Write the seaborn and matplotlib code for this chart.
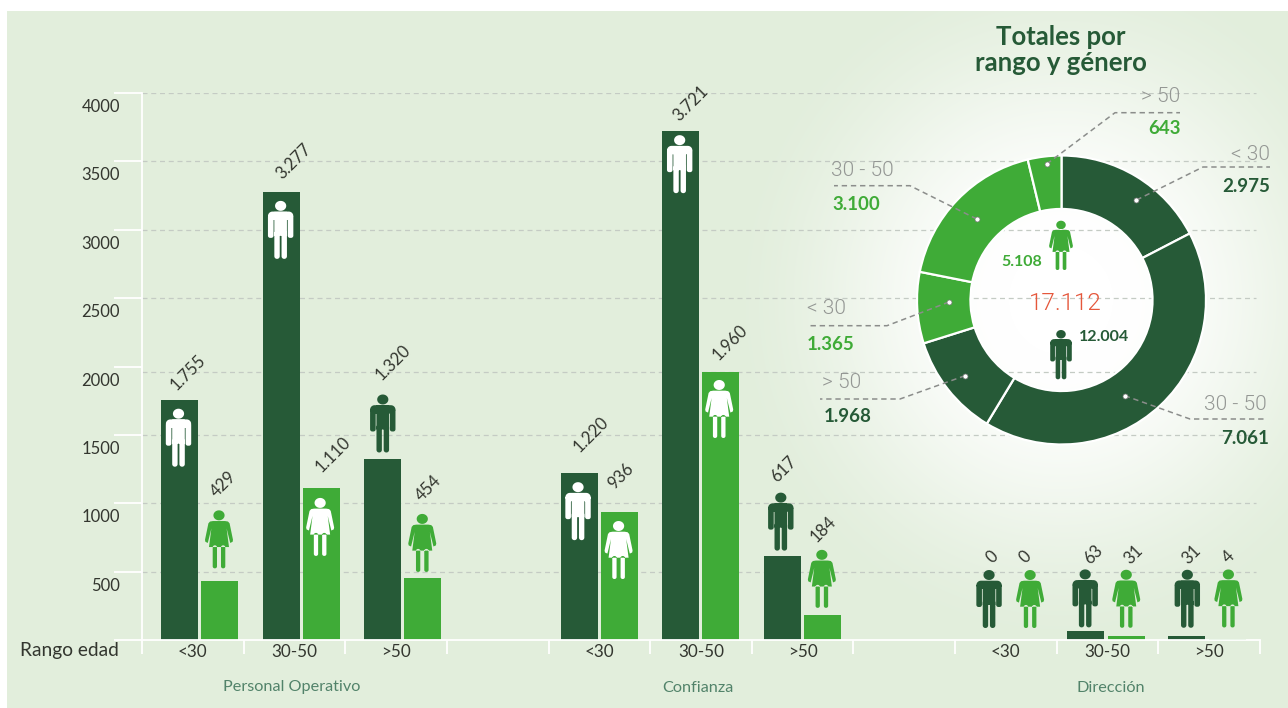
import numpy as np
import pandas as pd
import matplotlib
matplotlib.use("Agg")
import matplotlib.pyplot as plt
import seaborn as sns
from matplotlib.path import Path
from matplotlib.patches import PathPatch
from matplotlib.transforms import Affine2D, ScaledTranslation

# ---------- data ----------
groups = ["Personal Operativo", "Confianza", "Dirección"]
age_bands = ["<30", "30-50", ">50"]
men_values = [1755, 3277, 1320, 1220, 3721, 617, 0, 63, 31]
women_values = [429, 1110, 454, 936, 1960, 184, 0, 31, 4]
y_ticks = [0, 500, 1000, 1500, 2000, 2500, 3000, 3500, 4000]
grid_levels = [500, 1000, 1500, 1960, 2500, 3000, 3500, 4000]
donut_values = [2975, 7061, 1968, 1365, 3100, 643]
donut_bands = ["< 30", "30 - 50", "> 50", "< 30", "30 - 50", "> 50"]
total_men = 12004
total_women = 5108
total_all = 17112

# ---------- style / layout ----------
W, H, DPI = 1288, 708, 100
DARK, GREEN = "#265A37", "#3FAB37"
BASE = np.array([226, 238, 220]) / 255
INK, GREY, ORANGE, SUB = "#33362f", "#949794", "#E5573B", "#52836A"
pt = 72 / DPI

men_off = [.369, .30, .28]
women_off = [.7625, .694, .684]
bands_idx = [0, 1, 2, 4, 5, 6, 8, 9, 10]
men_pos = [b + men_off[i // 3] for i, b in enumerate(bands_idx)]
women_pos = [b + women_off[i // 3] for i, b in enumerate(bands_idx)]

# label offset from bar top (px), icon head-top offset from bar top (px), icon colour
men_label_off = [(8.5, 28), (12.5, 30), (10.5, 97), (12.5, 39), (10.5, 28), (1.5, 86), (8.5, 83), (8.5, 77), (4.5, 81)]
women_label_off = [(3.5, 97), (11.5, 34), (5.5, 90), (1.5, 36), (9.5, 29), (.5, 86), (.5, 83), (7.5, 81), (.5, 82)]
men_icon_off = [(-1, -8.7), (-.5, -9), (0, 65), (-1, -9), (-1, -4), (-1.5, 63), (5.5, 70), (0, 62), (.5, 66)]
women_icon_off = [(-.5, 71), (-1, -9.7), (-.5, 64), (-.5, -9), (-1.5, -8), (-.5, 65), (5.5, 70), (0, 66), (.5, 70)]
men_icon_col = ["white", "white", DARK, "white", "white", DARK, DARK, DARK, DARK]
women_icon_col = [GREEN, "white", GREEN, "white", "white", GREEN, GREEN, GREEN, GREEN]

sns.set_theme(style="white")
plt.rcParams["font.family"] = ["Lato", "DejaVu Sans"]
plt.rcParams["axes.unicode_minus"] = False
LIGHT = ["Roboto", "DejaVu Sans"]


def fmt(v):
    return f"{v:,}".replace(",", ".")


def rrect(x0, y0, x1, y1, r):
    pts = []
    for cx, cy, a0 in [(x0 + r, y0 + r, 180), (x1 - r, y0 + r, 270), (x1 - r, y1 - r, 0), (x0 + r, y1 - r, 90)]:
        for a in np.radians(np.linspace(a0, a0 + 90, 7)):
            pts.append((cx + r * np.cos(a), cy + r * np.sin(a)))
    return Path(pts + [pts[0]], closed=True)


def poly(pts):
    return Path(list(pts) + [pts[0]], closed=True)


def head():
    t = np.radians(np.linspace(0, 360, 33))
    return Path(np.c_[5.6 * np.cos(t), 5 + 5 * np.sin(t)], closed=True)


MAN = Path.make_compound_path(
    head(),
    rrect(-12.7, 10.7, 12.7, 19, 4.5),
    rrect(-12.7, 14, -7.1, 37, 2.2),
    rrect(7.1, 14, 12.7, 37, 2.2),
    rrect(-6.3, 11, 6.3, 35, .1),
    rrect(-6.3, 30, -.9, 58, 2.6),
    rrect(.9, 30, 6.3, 58, 2.6),
)
WOMAN = Path.make_compound_path(
    head(),
    poly([(-6, 10.7), (-9, 11.2), (-10.6, 13), (-14, 29.5), (-13.6, 31.5), (-11.2, 32.6), (-7.6, 18),
          (-10, 36.7), (10, 36.7), (7.6, 18), (11.2, 32.6), (13.6, 31.5), (14, 29.5), (10.6, 13), (9, 11.2), (6, 10.7)]),
    rrect(-6.3, 35, -2, 58, 2),
    rrect(2, 35, 6.3, 58, 2),
)


def icon(ax, shape, x, y, dx, dy, color, scale=1.0):
    """Icon with its head top dy px above (x, y) in ax data coordinates."""
    tr = Affine2D().scale(scale, -scale).translate(dx, dy) + ScaledTranslation(x, y, ax.transData)
    p = PathPatch(shape, facecolor=color, edgecolor="none", transform=tr, clip_on=False, zorder=6)
    ax.add_artist(p)
    p.set_clip_on(False)


fig = plt.figure(figsize=(W / DPI, H / DPI), dpi=DPI, facecolor="white")


def rect(x0, ytop, x1, ybot):
    return [x0 / W, 1 - ybot / H, (x1 - x0) / W, (ybot - ytop) / H]


# ---------- background ----------
bg = fig.add_axes([0, 0, 1, 1], zorder=0)
bg.axis("off")
xx, yy = np.meshgrid(np.arange(7, W) + .5, np.arange(11, H) + .5)
d = np.sqrt(((xx - 1061) / 345) ** 2 + ((yy - 300) / 360) ** 2)
t = np.clip((1 - d) / .85, 0, 1)
t = t * t * (3 - 2 * t)
img = BASE[None, None, :] * (1 - t[..., None]) + t[..., None]
bg.imshow(img, extent=(7, W, H, 11), aspect="auto", interpolation="bilinear", zorder=0)
bg.set_xlim(0, W)
bg.set_ylim(H, 0)

# ---------- bars ----------
ax = fig.add_axes(rect(142, 93, 1260, 640), zorder=1)
ax.patch.set_alpha(0)
men_df = pd.DataFrame({"pos": men_pos, "value": men_values})
women_df = pd.DataFrame({"pos": women_pos, "value": women_values})
for level in grid_levels:
    ax.plot([0, 10.96], [level, level], color="#c4cbc4", lw=.9, dashes=(4, 3), zorder=0.5)
bar_w = 37 / 101.64
sns.barplot(data=men_df, x="pos", y="value", native_scale=True, width=bar_w, color=DARK, saturation=1,
            errorbar=None, ax=ax, zorder=2, linewidth=0, edgecolor="none")
sns.barplot(data=women_df, x="pos", y="value", native_scale=True, width=bar_w, color=GREEN, saturation=1,
            errorbar=None, ax=ax, zorder=2, linewidth=0, edgecolor="none")
ax.set_xlim(0, 11)
ax.set_ylim(0, 4000)
ax.set_xlabel("")
ax.set_ylabel("")
for s in ["top", "right"]:
    ax.spines[s].set_visible(False)
for s in ["left", "bottom"]:
    ax.spines[s].set_color("white")
    ax.spines[s].set_linewidth(1.3)
ax.grid(False)

ax.set_yticks(y_ticks, [str(v) if v else "" for v in y_ticks])
ax.tick_params(axis="y", direction="out", length=28 * pt, width=1.3, color="white", pad=-6 * pt,
               labelsize=12, labelcolor=INK, left=True)
shift = ScaledTranslation(0, -6 / DPI, fig.dpi_scale_trans)
for lab in ax.get_yticklabels():
    lab.set_va("top")
    lab.set_transform(lab.get_transform() + shift)

ax.set_xticks(list(range(12)), [""] * 12)
ax.tick_params(axis="x", which="major", direction="out", length=14 * pt, width=1.3, color="white", bottom=True)
ax.set_xticks([b + .5 for b in bands_idx], age_bands * 3, minor=True)
ax.tick_params(axis="x", which="minor", length=0, pad=4.2 * pt, labelsize=12.3, labelcolor=INK, bottom=True)

for pos, vals, lab_off, ic_off, ic_col, shape in [
    (men_pos, men_values, men_label_off, men_icon_off, men_icon_col, MAN),
    (women_pos, women_values, women_label_off, women_icon_off, women_icon_col, WOMAN),
]:
    for x, v, lo, io, c in zip(pos, vals, lab_off, ic_off, ic_col):
        ax.annotate(fmt(v), xy=(x, v), xytext=(lo[0] * pt, lo[1] * pt), textcoords="offset points",
                    ha="center", va="center", rotation=45, rotation_mode="anchor", fontsize=12,
                    color=INK, annotation_clip=False, zorder=7)
        icon(ax, shape, x, v, io[0], io[1], c)

# ---------- donut ----------
cx, cy, R = 1061.5, 300, 144.5
pa = fig.add_axes(rect(cx - R, cy - R, cx + R, cy + R), zorder=2)
pa.patch.set_alpha(0)
pa.pie(donut_values, colors=[DARK, DARK, DARK, GREEN, GREEN, GREEN], startangle=90, counterclock=False, radius=1,
       wedgeprops=dict(width=.37, edgecolor="white", linewidth=1.6, clip_on=False))
pa.set_xlim(-1, 1)
pa.set_ylim(-1, 1)
pa.axis("off")

# ---------- overlay (pixel coordinates) ----------
ov = fig.add_axes([0, 0, 1, 1], zorder=3)
ov.patch.set_alpha(0)
ov.set_xlim(0, W)
ov.set_ylim(H, 0)
ov.axis("off")

ov.text(1061, 50, "Totales por\nrango y género", ha="center", va="center", fontsize=18.5, fontweight="bold",
        color=DARK, linespacing=1.1)
ov.text(20, 650.5, "Rango edad", ha="left", va="center", fontsize=13.8, color=INK)
for name, x in zip(groups, [292, 698, 1111]):
    ov.text(x, 687.5, name, ha="center", va="center", fontsize=11.7, color=SUB)

# leaders: dot, elbow, end, band-label anchor, value-label anchor, alignment
leaders = [
    ((1136.5, 200), (1203, 167), (1270, 167), (1270, 155), (1270, 186), "right", DARK),
    ((1124.7, 395.7), (1190, 419), (1267, 419), (1267, 404), (1269, 439), "right", DARK),
    ((965, 375.7), (900, 399), (820, 399), (822, 382), (824, 417), "left", DARK),
    ((949, 302), (887, 325.7), (807, 325.7), (807, 308), (807, 344), "left", GREEN),
    ((976.7, 219), (910, 185.7), (834, 185.7), (831, 171), (832, 205), "left", GREEN),
    ((1046.7, 164), (1115, 112.7), (1180, 112.7), (1180, 97), (1181, 129), "right", GREEN),
]
for v, band, (dot, elbow, end, bl, vl, ha, col) in zip(donut_values, donut_bands, leaders):
    ov.plot([dot[0], elbow[0], end[0]], [dot[1], elbow[1], end[1]], color="#8b8d8b", lw=1.1, dashes=(3.5, 2.5), zorder=2)
    ov.plot([dot[0]], [dot[1]], "o", ms=3.6, mfc="white", mec="#777", mew=.5, zorder=3)
    ov.text(bl[0], bl[1], band, ha=ha, va="center", fontsize=15, color=GREY, family=LIGHT, fontweight=300)
    ov.text(vl[0], vl[1], fmt(v), ha=ha, va="center", fontsize=13.5, color=col, fontweight="bold")

icon(ov, WOMAN, 1061, 220.7, 0, 0, GREEN, scale=.85)
icon(ov, MAN, 1061, 330, 0, 0, DARK, scale=.85)
ov.text(1022, 262, fmt(total_women), ha="center", va="center", fontsize=11.5, fontweight="bold", color=GREEN)
ov.text(1104, 337, fmt(total_men), ha="center", va="center", fontsize=11.5, fontweight="bold", color=DARK)
ov.text(1065, 304, fmt(total_all), ha="center", va="center", fontsize=17.5, color=ORANGE, family=LIGHT, fontweight=300)

fig.savefig("out.png", dpi=DPI, facecolor="white")
